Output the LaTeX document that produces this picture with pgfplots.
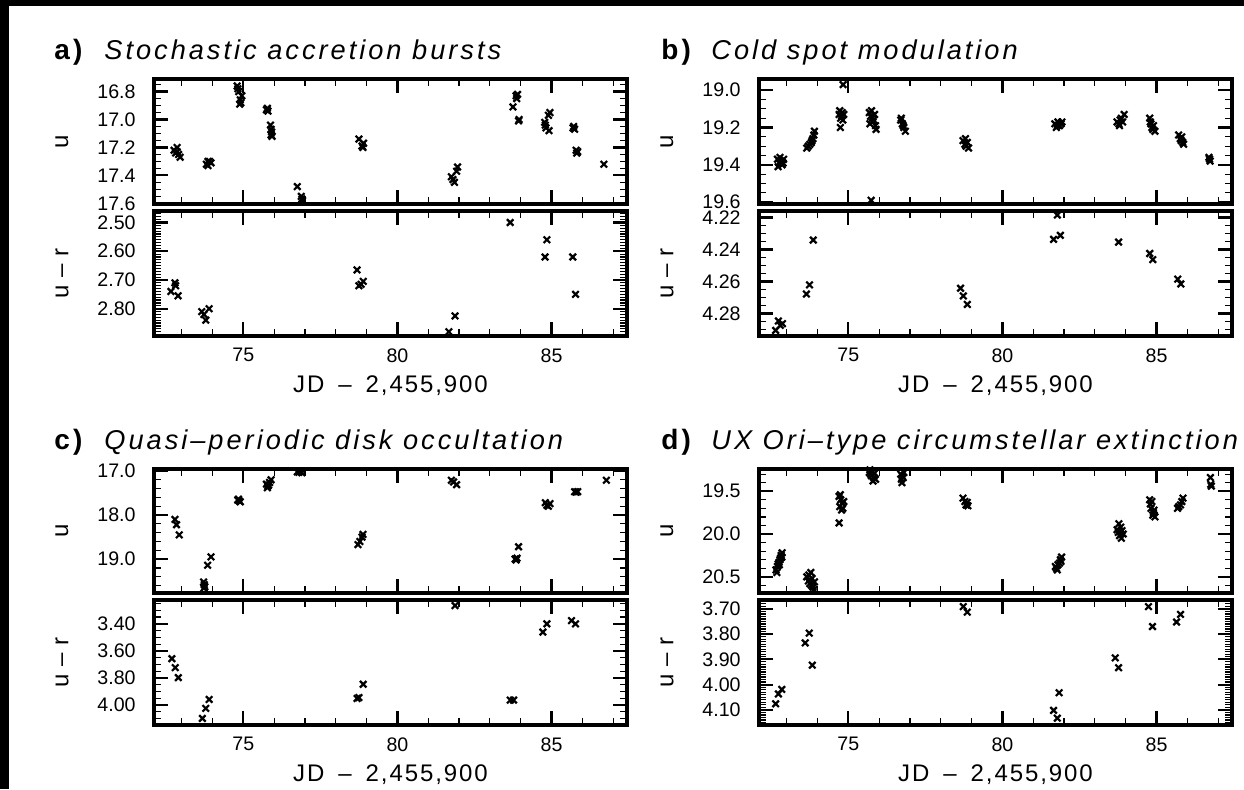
\documentclass[border=0pt]{standalone}
\usepackage{fontspec}
\setmainfont{Liberation Sans}
\newfontfamily\spacedfont[LetterSpace=11]{Liberation Sans}
\newfontfamily\labfont[LetterSpace=8]{Liberation Sans}
\usepackage{pgfplots}
\pgfplotsset{compat=1.18}

\newcommand\tickfont{\fontsize{9.8}{11}\selectfont}
\newcommand\titl[2]{\makebox[25pt][l]{\spacedfont\fontsize{14}{16}\selectfont\bfseries #1}{\spacedfont\itshape\fontsize{13.6}{15}\selectfont #2}}

\pgfplotsset{
 idl/.style={scale only axis, width=236.5pt, height=62.5pt, xmin=72.1, xmax=87.45, y dir=reverse,
   tick align=inside, xtick pos=both, ytick pos=both, xtick={75,80,85}, minor xtick={73,74,...,87},
   major tick length=7pt, minor tick length=3.5pt,
   every major tick/.style={black, line width=1.1pt},
   every minor tick/.style={black, line width=0.6pt},
   axis line style={line width=1.8pt},
   tick label style={font=\tickfont},
   /pgf/number format/assume math mode=true,
   xticklabel style={inner sep=0pt, yshift=-6pt},
   yticklabel style={inner sep=0pt, xshift=-9pt},
   ylabel style={at={(axis description cs:-0.1945,0.5)}, anchor=center, font=\labfont\fontsize{12}{14}\selectfont},
   xlabel style={at={(axis description cs:0.5,0)}, anchor=center, yshift=-25pt, font=\labfont\fontsize{12}{14}\selectfont},
   anchor=north west},
 up/.style={idl, xticklabels={}, ylabel={u}},
 dn/.style={idl, ylabel={u\hspace{4pt}–\hspace{4pt}r}, xlabel={JD\hspace{7pt}–\hspace{7pt}2,455,900}},
 prec/.style={yticklabel style={/pgf/number format/.cd, fixed, fixed zerofill, precision=#1}},
 pts/.style={only marks, mark=x, mark size=2.3pt, mark options={line width=1.1pt, solid}, black}
}

\begin{document}
\begin{tikzpicture}
\path[use as bounding box] (0,0) rectangle (622pt,-394.5pt);
\fill[black] (0,0) rectangle (4.5pt,-394.5pt);
\fill[black] (0,0) rectangle (622pt,-3pt);

\node[anchor=base west, inner sep=0pt] at (27pt,-29.75pt) {\titl{a)}{Stochastic accretion bursts}};
\node[anchor=base west, inner sep=0pt] at (330.5pt,-29.75pt) {\titl{b)}{Cold spot modulation}};
\node[anchor=base west, inner sep=0pt] at (27pt,-224.5pt) {\titl{c)}{Quasi–periodic disk occultation}};
\node[anchor=base west, inner sep=0pt] at (330.5pt,-224.5pt) {\titl{d)}{UX Ori–type circumstellar extinction}};

% ---------- a) u
\begin{axis}[up, at={(77pt,-39.5pt)}, ymin=16.71, ymax=17.605,
  ytick={16.8,17.0,17.2,17.4,17.6},
  minor ytick={16.75,16.85,16.9,16.95,17.05,17.1,17.15,17.25,17.3,17.35,17.45,17.5,17.55}, prec=1]
\addplot[pts] table {
72.75 17.22
72.80 17.24
72.85 17.20
72.90 17.25
72.95 17.27
72.85 17.23
73.80 17.32
73.85 17.33
73.90 17.30
73.95 17.31
73.85 17.30
74.80 16.76
74.82 16.78
74.85 16.80
74.90 16.86
74.92 16.88
74.95 16.83
74.88 16.89
75.75 16.93
75.78 16.92
75.80 16.94
75.88 17.04
75.90 17.07
75.92 17.09
75.90 17.11
75.93 17.12
76.75 17.48
76.88 17.55
76.90 17.57
76.92 17.58
78.75 17.14
78.85 17.19
78.90 17.17
78.88 17.20
81.75 17.41
81.80 17.43
81.85 17.45
81.92 17.37
81.95 17.34
83.75 16.91
83.85 16.83
83.87 16.85
83.90 16.82
83.95 17.00
83.93 17.01
84.78 17.02
84.80 17.04
84.82 17.06
84.90 16.97
84.95 16.95
84.92 17.08
85.70 17.06
85.75 17.07
85.72 17.05
85.80 17.22
85.85 17.23
85.82 17.24
86.70 17.32
};
\end{axis}

% ---------- a) u-r
\begin{axis}[dn, at={(77pt,-105.5pt)}, ymin=2.46, ymax=2.895,
  ytick={2.5,2.6,2.7,2.8},
  minor ytick={2.47,2.48,...,2.89}, prec=2]
\addplot[pts] table {
72.65 2.740
72.78 2.710
72.80 2.720
72.88 2.755
73.65 2.810
73.72 2.820
73.78 2.840
73.89 2.800
78.69 2.665
78.75 2.720
78.82 2.715
78.89 2.705
81.67 2.880
81.87 2.825
83.66 2.500
84.79 2.620
84.85 2.560
85.69 2.620
85.78 2.750
};
\end{axis}

% ---------- b) u
\begin{axis}[up, at={(379.5pt,-39.5pt)}, ymin=18.94, ymax=19.61,
  ytick={19.0,19.2,19.4,19.6},
  minor ytick={18.95,19.05,19.1,19.15,19.25,19.3,19.35,19.45,19.5,19.55}, prec=1]
\addplot[pts] table {
72.70 19.37
72.75 19.39
72.80 19.38
72.85 19.40
72.90 19.37
72.72 19.41
72.88 19.39
72.78 19.36
73.65 19.31
73.70 19.30
73.75 19.29
73.80 19.28
73.85 19.26
73.88 19.24
73.90 19.22
73.82 19.27
74.70 19.13
74.72 19.11
74.75 19.15
74.78 19.14
74.80 19.12
74.82 19.16
74.74 19.20
74.85 19.13
74.83 18.97
75.68 19.12
75.72 19.14
75.75 19.11
75.78 19.15
75.80 19.17
75.85 19.13
75.88 19.19
75.90 19.21
75.82 19.16
75.70 19.18
75.74 19.59
76.70 19.16
76.75 19.18
76.80 19.20
76.85 19.22
76.78 19.19
76.72 19.15
78.72 19.27
78.78 19.29
78.82 19.30
78.86 19.28
78.90 19.31
78.80 19.26
81.70 19.18
81.75 19.20
81.80 19.17
81.85 19.19
81.90 19.18
81.93 19.17
81.78 19.19
83.72 19.17
83.78 19.18
83.82 19.16
83.86 19.15
83.90 19.17
83.95 19.13
83.80 19.19
84.78 19.15
84.82 19.18
84.85 19.20
84.90 19.19
84.95 19.22
84.88 19.21
84.80 19.17
85.72 19.24
85.77 19.26
85.80 19.27
85.85 19.28
85.88 19.29
85.82 19.25
86.70 19.36
86.74 19.38
86.72 19.37
};
\end{axis}

% ---------- b) u-r
\begin{axis}[dn, at={(379.5pt,-105.5pt)}, ymin=4.216, ymax=4.294,
  ytick={4.22,4.24,4.26,4.28},
  minor ytick={4.22,4.225,4.23,4.235,4.24,4.245,4.25,4.255,4.26,4.265,4.27,4.275,4.28,4.285,4.29}, prec=2]
\addplot[pts] table {
72.64 4.2905
72.73 4.2846
72.79 4.2874
72.86 4.2863
73.64 4.2678
73.74 4.2621
73.86 4.2341
78.64 4.2642
78.73 4.2690
78.86 4.2743
81.66 4.2337
81.78 4.2185
81.88 4.2312
83.77 4.2354
84.78 4.2425
84.88 4.2463
85.69 4.2585
85.79 4.2615
};
\end{axis}

% ---------- c) u
\begin{axis}[up, at={(77pt,-234.5pt)}, height=62pt, ymin=16.955, ymax=19.77,
  ytick={17.0,18.0,19.0},
  minor ytick={17.2,17.4,17.6,17.8,18.2,18.4,18.6,18.8,19.2,19.4,19.6}, prec=1]
\addplot[pts] table {
72.78 18.10
72.83 18.22
72.92 18.45
73.84 19.14
73.95 18.95
73.71 19.52
73.73 19.58
73.75 19.63
73.72 19.66
74.84 17.64
74.87 17.68
74.90 17.70
74.82 17.66
75.75 17.30
75.80 17.34
75.85 17.26
75.90 17.20
75.78 17.38
75.82 17.32
76.75 17.02
76.80 17.03
76.85 17.01
76.90 17.04
78.72 18.67
78.78 18.60
78.85 18.50
78.88 18.44
81.75 17.21
81.82 17.25
81.92 17.31
83.82 19.00
83.85 19.02
83.88 18.98
83.93 18.72
84.80 17.72
84.85 17.78
84.90 17.80
84.95 17.74
85.75 17.47
85.80 17.48
85.85 17.47
86.78 17.21
};
\end{axis}

% ---------- c) u-r
\begin{axis}[dn, at={(77pt,-300pt)}, ymin=3.224, ymax=4.147,
  ytick={3.4,3.6,3.8,4.0},
  minor ytick={3.25,3.3,3.35,3.45,3.5,3.55,3.65,3.7,3.75,3.85,3.9,3.95,4.05,4.1}, prec=2]
\addplot[pts] table {
72.68 3.657
72.79 3.723
72.89 3.797
73.67 4.098
73.78 4.024
73.89 3.958
78.69 3.951
78.75 3.944
78.89 3.846
81.87 3.265
83.66 3.963
83.77 3.963
84.72 3.461
84.85 3.400
85.65 3.376
85.78 3.400
};
\end{axis}

% ---------- d) u
\begin{axis}[up, at={(379.5pt,-234.5pt)}, height=62pt, ymin=19.24, ymax=20.69,
  ytick={19.5,20.0,20.5},
  minor ytick={19.3,19.4,19.6,19.7,19.8,19.9,20.1,20.2,20.3,20.4,20.6}, prec=1]
\addplot[pts] table {
72.65 20.42
72.70 20.38
72.72 20.35
72.75 20.33
72.78 20.30
72.80 20.28
72.82 20.25
72.85 20.22
72.68 20.45
72.76 20.36
72.84 20.27
73.65 20.50
73.70 20.55
73.75 20.58
73.80 20.60
73.85 20.62
73.90 20.56
73.72 20.48
73.82 20.52
73.88 20.65
73.78 20.45
74.70 19.56
74.75 19.60
74.80 19.64
74.72 19.68
74.78 19.72
74.82 19.70
74.85 19.62
74.74 19.54
74.70 19.87
75.68 19.28
75.72 19.30
75.75 19.32
75.78 19.27
75.82 19.34
75.85 19.29
75.88 19.36
75.70 19.25
75.80 19.38
76.70 19.30
76.75 19.32
76.80 19.28
76.72 19.36
76.78 19.34
76.74 19.40
78.72 19.58
78.78 19.62
78.82 19.66
78.86 19.63
78.88 19.67
81.72 20.38
81.75 20.40
81.80 20.36
81.85 20.34
81.88 20.30
81.92 20.27
81.78 20.42
81.90 20.32
83.72 19.95
83.76 19.98
83.80 20.02
83.84 19.92
83.88 19.96
83.92 20.00
83.78 19.88
83.86 20.05
84.78 19.60
84.80 19.65
84.82 19.70
84.85 19.62
84.90 19.75
84.95 19.80
84.92 19.72
84.88 19.78
85.68 19.70
85.72 19.68
85.78 19.66
85.82 19.62
85.86 19.58
86.75 19.34
86.78 19.44
86.76 19.42
};
\end{axis}

% ---------- d) u-r
\begin{axis}[dn, at={(379.5pt,-300pt)}, ymin=3.665, ymax=4.16,
  ytick={3.7,3.8,3.9,4.0,4.1},
  minor ytick={3.67,3.68,...,4.15}, prec=2]
\addplot[pts] table {
72.64 4.076
72.73 4.037
72.84 4.019
73.60 3.835
73.73 3.796
73.83 3.923
78.73 3.691
78.86 3.713
81.66 4.102
81.78 4.133
81.84 4.032
83.66 3.894
83.77 3.933
84.74 3.691
84.87 3.770
85.65 3.752
85.78 3.722
};
\end{axis}
\end{tikzpicture}
\end{document}
